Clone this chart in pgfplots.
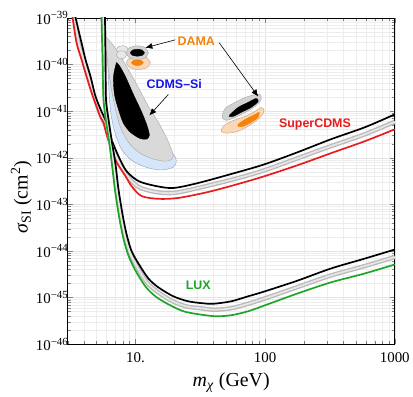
\documentclass[border=0pt]{standalone}
\usepackage{fontspec}
\setmainfont{Liberation Serif}
\newfontfamily\labelfont{Liberation Sans}
\usepackage{pgfplots}
\usepackage{pgfplotstable}
\pgfplotsset{compat=1.18}
\usetikzlibrary{arrows.meta}

\definecolor{cdmsred}{RGB}{232,28,28}
\definecolor{luxgreen}{RGB}{30,165,40}
\definecolor{damaorange}{RGB}{245,130,10}
\definecolor{peach}{RGB}{250,215,182}
\definecolor{peachedge}{RGB}{200,160,120}
\definecolor{cdmsblue}{RGB}{20,20,235}
\definecolor{lightblue}{RGB}{214,230,250}
\definecolor{blueedge}{RGB}{140,160,200}

\newcommand{\sups}[1]{\textsuperscript{\fontsize{11}{12}\selectfont #1}}

% SuperCDMS limit curves (GeV, cm^2)
\pgfplotstableread{
x y
3.277 1.89e-39
3.456 1.0e-39
3.842 2.92e-40
4.125 1.27e-40
4.507 5.51e-41
4.924 2.06e-41
5.477 9.86e-42
5.984 5.74e-42
6.538 2.49e-42
7.399 1.08e-42
8.527 5.18e-43
10.55 3.16e-43
14.25 2.48e-43
19.60 2.24e-43
30.52 2.87e-43
61.99 4.92e-43
100 7.29e-43
179.4 1.32e-42
321.9 2.49e-42
587.7 4.50e-42
1000 8.51e-42
}\scdmsblack

\pgfplotstableread{
x y
3.219 1.89e-39
3.395 1.0e-39
3.643 2.92e-40
3.981 1.27e-40
4.350 5.51e-41
4.753 2.28e-41
5.194 1.09e-41
5.576 6.65e-42
5.984 4.28e-42
6.538 1.95e-42
7.399 8.45e-43
8.527 4.25e-43
10.55 2.36e-43
14.25 1.84e-43
19.60 1.75e-43
30.52 2.24e-43
61.99 3.66e-43
100 5.43e-43
179.4 9.80e-43
321.9 1.77e-42
587.7 3.18e-42
1000 5.89e-42
}\scdmsgray

\pgfplotstableread{
x y
3.162 1.89e-39
3.277 1.0e-39
3.517 2.92e-40
3.842 1.27e-40
4.199 5.51e-41
4.587 2.51e-41
5.012 1.26e-41
5.381 7.35e-42
5.673 5.74e-42
5.984 3.18e-42
6.538 1.52e-42
7.141 8.05e-43
8.377 4.05e-43
9.316 2.48e-43
11.12 1.51e-43
15.03 1.31e-43
21.42 1.37e-43
36.43 1.84e-43
61.99 2.73e-43
100 4.05e-43
179.4 6.95e-43
321.9 1.25e-42
587.7 2.26e-42
1000 4.07e-42
}\scdmsred

% LUX limit curves
\pgfplotstableread{
x y
5.82 1.89e-39
5.828 1.0e-39
5.879 1.27e-40
5.931 1.78e-41
6.199 6.65e-42
6.538 2.49e-42
7.019 7.29e-43
7.399 2.14e-43
7.943 6.25e-44
8.527 2.34e-44
9.316 1.01e-44
10.55 5.36e-45
12.59 2.56e-45
15.03 1.65e-45
19.60 1.06e-45
25.57 8.28e-46
33.36 7.50e-46
39.81 7.33e-46
54.76 8.28e-46
73.99 1.06e-45
100 1.36e-45
179.4 2.32e-45
321.9 4.19e-45
587.7 6.85e-45
1000 1.07e-44
}\luxblack

\pgfplotstableread{
x y
5.673 1.89e-39
5.673 1.0e-39
5.775 1.27e-40
5.828 1.78e-41
6.089 6.04e-42
6.421 2.26e-42
6.832 6.61e-43
7.205 1.94e-43
7.735 5.66e-44
8.302 2.12e-44
9.073 9.20e-45
10.27 4.62e-45
12.26 2.11e-45
14.63 1.36e-45
18.76 8.69e-46
24.46 6.47e-46
31.90 5.87e-46
40.53 5.46e-46
54.76 5.87e-46
73.99 7.33e-46
100 9.59e-46
179.4 1.69e-45
321.9 2.97e-45
587.7 4.74e-45
1000 7.38e-45
}\luxgray

\pgfplotstableread{
x y
5.477 1.89e-39
5.477 1.0e-39
5.576 1.27e-40
5.673 1.78e-41
5.984 5.21e-42
6.310 1.95e-42
6.655 5.70e-43
7.019 1.67e-43
7.531 4.89e-44
8.085 1.83e-44
8.835 7.94e-45
10 3.80e-45
11.94 1.73e-45
14.25 1.06e-45
17.94 7.14e-46
23.40 5.07e-46
30.52 4.38e-46
41.26 3.96e-46
54.76 4.16e-46
73.99 5.07e-46
100 6.81e-46
179.4 1.23e-45
321.9 2.11e-45
587.7 3.28e-45
1000 5.11e-45
}\luxgreen

\begin{document}
\begin{tikzpicture}
\begin{axis}[
    name=ax,
    xmode=log, ymode=log,
    scale only axis,
    width=329pt, height=328pt,
    xmin=3, xmax=1000, ymin=1e-46, ymax=1e-39,
    xtick={10,100,1000},
    xticklabels={10., 100, 1000},
    minor xtick={3,4,5,6,7,8,9,20,30,40,50,60,70,80,90,200,300,400,500,600,700,800,900},
    ytick={1e-46,1e-45,1e-44,1e-43,1e-42,1e-41,1e-40,1e-39},
    yticklabels={10\sups{−46},10\sups{−45},10\sups{−44},10\sups{−43},10\sups{−42},10\sups{−41},10\sups{−40},10\sups{−39}},
    minor ytick={2e-46,3e-46,4e-46,5e-46,6e-46,7e-46,8e-46,9e-46,
                 2e-45,3e-45,4e-45,5e-45,6e-45,7e-45,8e-45,9e-45,
                 2e-44,3e-44,4e-44,5e-44,6e-44,7e-44,8e-44,9e-44,
                 2e-43,3e-43,4e-43,5e-43,6e-43,7e-43,8e-43,9e-43,
                 2e-42,3e-42,4e-42,5e-42,6e-42,7e-42,8e-42,9e-42,
                 2e-41,3e-41,4e-41,5e-41,6e-41,7e-41,8e-41,9e-41,
                 2e-40,3e-40,4e-40,5e-40,6e-40,7e-40,8e-40,9e-40},
    tick align=inside,
    tick pos=both,
    major tick length=5pt,
    minor tick length=3pt,
    grid=both,
    major grid style={gray!22},
    minor grid style={gray!14},
    tick label style={font=\fontsize{15}{17}\selectfont},
    yticklabel style={inner xsep=1pt, xshift=2pt},
    xticklabel style={anchor=base, yshift=-19pt},
    label style={font=\fontsize{20}{23}\selectfont},
    xlabel style={at={(axis description cs:0.5,-0.131)}, anchor=base},
    ylabel style={at={(axis description cs:-0.122,0.45)}, anchor=base, rotate=0},
    xlabel={\textit{m}\textsubscript{\textit{χ}} (GeV)},
    ylabel={\textit{σ}\textsubscript{SI} (cm\textsuperscript{2})},
    axis line style={line width=0.8pt},
]

% CDMS-Si regions
\addplot[fill=lightblue, draw=blueedge, line width=0.4pt, smooth] coordinates {
(6.089,1.62e-40) (6.199,4.75e-41) (6.310,1.78e-41) (6.538,7.35e-42) (7.019,3.18e-42)
(7.803,1.52e-42) (9.316,8.88e-43) (11.94,6.30e-43) (15.85,5.43e-43) (19.60,6.30e-43)
(20.67,8.45e-43) (19.60,1.19e-42) (15.03,2.49e-42) (10.55,1.09e-41) (7.399,6.08e-41)
(6.421,1.62e-40) (6.089,1.62e-40)} -- cycle;
\addplot[fill=gray!30, draw=gray!70, line width=0.4pt, smooth] coordinates {
(5.879,3.93e-40) (6.421,3.07e-40) (7.399,1.79e-40) (8.990,7.04e-41) (10.74,2.91e-41)
(12.59,1.26e-41) (15.03,5.74e-42) (17.32,2.75e-42) (18.92,1.52e-42) (19.60,1.08e-42)
(18.59,8.88e-43) (16.42,8.45e-43) (13.04,9.80e-43) (10.55,1.32e-42) (8.835,2.15e-42)
(7.666,4.50e-42) (7.019,1.09e-41) (6.538,2.91e-41) (6.199,7.77e-41) (5.984,1.88e-40)
(5.879,3.93e-40)} -- cycle;
\addplot[fill=black, draw=black, smooth] coordinates {
(7.141,1.10e-40) (6.773,5.51e-41) (6.895,2.27e-41) (7.399,1.09e-41) (8.085,5.47e-42)
(9.152,3.52e-42) (10.74,2.62e-42) (12.15,2.49e-42) (12.81,3.03e-42) (12.26,4.96e-42)
(11.12,9.86e-42) (9.652,2.27e-41) (8.377,5.51e-41) (7.531,9.45e-41) (7.141,1.10e-40)} -- cycle;

% DAMA, low mass
\addplot[fill=gray!18, draw=gray!70, line width=0.4pt, smooth] coordinates {
(8.835,2.08e-40) (8.527,2.40e-40) (7.943,2.53e-40) (7.399,2.40e-40) (7.141,2.08e-40)
(7.399,1.79e-40) (7.943,1.70e-40) (8.527,1.79e-40) (8.835,2.08e-40)} -- cycle;
\addplot[fill=gray!18, draw=gray!70, line width=0.4pt, smooth] coordinates {
(8.527,1.62e-40) (8.302,1.88e-40) (7.803,1.98e-40) (7.335,1.88e-40) (7.141,1.62e-40)
(7.335,1.40e-40) (7.803,1.33e-40) (8.302,1.40e-40) (8.527,1.62e-40)} -- cycle;
\addplot[fill=peach, draw=peachedge, line width=0.4pt, smooth] coordinates {
(13.04,1.10e-40) (12.26,1.40e-40) (10.55,1.55e-40) (9.073,1.40e-40) (8.527,1.10e-40)
(9.073,8.57e-41) (10.55,7.77e-41) (12.26,8.57e-41) (13.04,1.10e-40)} -- cycle;
\addplot[fill=damaorange, draw=damaorange, smooth] coordinates {
(11.52,1.10e-40) (11.12,1.21e-40) (10.36,1.27e-40) (9.652,1.21e-40) (9.316,1.10e-40)
(9.652,9.93e-41) (10.36,9.45e-41) (11.12,9.93e-41) (11.52,1.10e-40)} -- cycle;
\addplot[fill=gray!35, draw=gray!70, line width=0.4pt, smooth] coordinates {
(12.59,1.79e-40) (11.94,2.29e-40) (10.36,2.53e-40) (8.990,2.29e-40) (8.527,1.79e-40)
(8.990,1.40e-40) (10.36,1.27e-40) (11.94,1.40e-40) (12.59,1.79e-40)} -- cycle;
\addplot[fill=black, draw=black, smooth] coordinates {
(11.73,1.79e-40) (11.32,2.03e-40) (10.36,2.13e-40) (9.483,2.03e-40) (9.152,1.79e-40)
(9.483,1.58e-40) (10.36,1.51e-40) (11.32,1.58e-40) (11.73,1.79e-40)} -- cycle;

% DAMA, high mass
\addplot[fill=peach, draw=peachedge, line width=0.4pt, smooth] coordinates {
(45.86,3.69e-42) (47.53,4.72e-42) (54.76,6.03e-42) (70.19,7.72e-42) (83.77,9.86e-42)
(93.16,1.20e-41) (98.24,1.04e-41) (93.16,7.72e-42) (78.03,5.21e-42) (61.99,3.69e-42)
(50.12,3.35e-42) (45.86,3.69e-42)} -- cycle;
\addplot[fill=damaorange, draw=damaorange, smooth] coordinates {
(61.99,5.21e-42) (70.19,6.65e-42) (83.77,8.51e-42) (89.92,9.39e-42) (88.35,7.35e-42)
(78.03,5.74e-42) (67.74,4.72e-42) (61.99,4.72e-42) (61.99,5.21e-42)} -- cycle;
\addplot[fill=gray!35, draw=gray!70, line width=0.4pt, smooth] coordinates {
(47.53,9.39e-42) (50.12,1.20e-41) (58.78,1.54e-41) (70.19,1.96e-41) (83.77,2.27e-41)
(91.52,2.27e-41) (93.16,1.78e-41) (83.77,1.26e-41) (70.19,9.39e-42) (58.78,7.35e-42)
(50.12,6.34e-42) (46.69,7.35e-42) (47.53,9.39e-42)} -- cycle;
\addplot[fill=black, draw=black, smooth] coordinates {
(53.80,8.51e-42) (61.99,1.20e-41) (73.99,1.54e-41) (85.27,1.87e-41) (88.35,1.61e-41)
(78.03,1.20e-41) (65.38,9.39e-42) (56.74,7.72e-42) (52.86,7.72e-42) (53.80,8.51e-42)} -- cycle;

% SuperCDMS
\addplot[gray!55, line width=4.4pt, smooth] table[x=x, y=y] {\scdmsgray};
\addplot[gray!20, line width=1.8pt, smooth] table[x=x, y=y] {\scdmsgray};
\addplot[black, line width=1.7pt, smooth] table[x=x, y=y] {\scdmsblack};
\addplot[cdmsred, line width=1.7pt, smooth] table[x=x, y=y] {\scdmsred};

% LUX
\addplot[gray!55, line width=4.4pt, smooth] table[x=x, y=y] {\luxgray};
\addplot[gray!20, line width=1.8pt, smooth] table[x=x, y=y] {\luxgray};
\addplot[black, line width=1.7pt, smooth] table[x=x, y=y] {\luxblack};
\addplot[luxgreen, line width=1.7pt, smooth] table[x=x, y=y] {\luxgreen};

% annotations
\draw[line width=0.6pt, -{Latex[length=7pt, width=6pt]}] (axis cs:20.31,3.39e-40) -- (axis cs:11.94,2.29e-40);
\draw[line width=0.6pt, -{Latex[length=7pt, width=6pt]}] (axis cs:44.27,2.93e-40) -- (axis cs:88.35,2.06e-41);
\draw[line width=0.6pt, -{Latex[length=7pt, width=6pt]}] (axis cs:17.94,2.27e-41) -- (axis cs:12.81,8.10e-42);

\node[text=damaorange, font=\labelfont\bfseries\fontsize{12.5}{14}\selectfont] at (axis cs:29.46,3.23e-40) {DAMA};
\node[text=cdmsblue, font=\labelfont\bfseries\fontsize{12.5}{14}\selectfont] at (axis cs:19.95,3.72e-41) {CDMS–Si};
\node[text=cdmsred, font=\labelfont\bfseries\fontsize{12.5}{14}\selectfont] at (axis cs:242.4,5.21e-42) {SuperCDMS};
\node[text=luxgreen, font=\labelfont\bfseries\fontsize{12.5}{14}\selectfont] at (axis cs:30.52,1.82e-45) {LUX};

\end{axis}
\path (ax.south west) ++(-68pt,-48pt);
\path (ax.north east) ++(16pt,18pt);
\end{tikzpicture}
\end{document}
